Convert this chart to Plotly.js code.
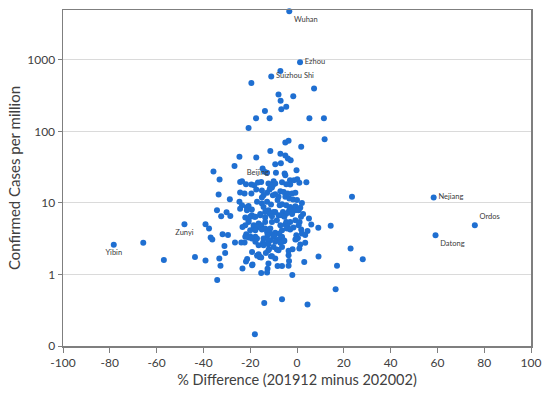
<!DOCTYPE html>
<html>
<head>
<meta charset="utf-8">
<script src="https://cdn.plot.ly/plotly-3.0.1.min.js"></script>
<style>html,body{margin:0;padding:0;background:#fff;}#chart{width:550px;height:399px;}</style>
</head>
<body>
<div id="chart"></div>
<script>
// % difference (201912 minus 202002), confirmed cases per million, label
const pctDiff = [
-3.3,1.3,-7.1,-11.0,-19.5,7.3,-7.9,-1.6,-7.0,-4.6,-6.7,-13.7,-17.5,-11.7,5.3,11.5,-20.7,11.8,-5,-3.6,
1.8,-11.4,-7.1,-5,-24.6,-17.4,-3.9,-2.7,-6.9,-9.3,-26.7,-14.7,-0.2,-35.7,-14,-9,-12.8,-5.3,-5,-33.1,
-3,-1.3,0.1,1,4,-6.4,-9.3,-2.9,-4.6,-24.3,-23.5,-21.8,-19.5,-16.7,-15.3,-12.2,-10,-10.3,-18.3,-11.4,
-10.7,-17.4,-15,-11.7,-7.1,-5.7,-12.8,-22.4,-19.5,-24.3,-33.5,-4,-2.1,-0.7,-9.3,-14.3,-10.3,-15,-7.9,-5,
-3.3,-1.7,0,2.1,-28.7,-8.3,23.5,58.4,-24.6,-17.1,-12.8,-15,-11.1,-23.5,-20.7,-7.4,-6.4,-4.6,-2.9,-0.7,
1.4,-14.3,-21.4,-24.3,-20.7,-34.2,-30.1,-21.4,-19.3,-12.2,-3.2,-1.9,-0.7,0.7,-3.6,-6,-9.3,-13.6,-10,-11.7,
-15.7,-2.1,2.6,-4.6,-19.3,-15.7,-7.9,-6.7,-10.7,-32.4,-28.5,-20,-18.3,-17.8,-5.4,1.7,-22.1,-13.6,5.1,-20.7,
-8.6,-0.7,-4.6,-2.9,1.1,-20.7,-13.6,-10.7,-16.4,-48.1,-39.1,6.1,-5,-22.1,-15.3,-18.5,-7.1,0.7,76,14.4,
-4,-23.3,-18.5,-17.1,-1.5,9.1,-37.6,-13.6,-11.4,-4.3,-2.9,1.8,-15,-20,-17.8,-6.4,4.5,-12.8,-9.3,-11.4,
-7.6,2.1,-31.8,-21.7,-29.5,3.5,-9.6,-12.6,-0.3,59.2,-20,-17.8,-22.1,-6.4,-10,-36.9,-20.7,0.4,-6.4,-19.3,
-17.1,-14.3,-7.1,-0.3,-36.2,-7.9,-0.7,-11.4,-5.7,-12.2,-5.4,-5.7,-9.3,-17.8,-26.5,-23.8,-22.4,-14.5,-65.7,-7.1,
3.5,-12.2,1.4,-78.3,-16.4,-14.3,-31,-10,-6.4,22.9,1,-12,-1.9,-8.6,-7.9,-12.2,-3.6,-19.2,-30.7,-13.3,
-16.4,-3.6,-17.1,-11.1,-10.7,9.2,-43.6,-16,-15.7,-15.3,-33.2,-9.3,-21.3,28.1,-56.9,-39.1,-3.4,-21.8,3.1,-12.2,
-19,-19.2,-32.7,-3.6,-6.4,-8.3,17.1,-23.3,-12.6,-15.3,-12.8,-2,-34.1,16.5,-6.4,-14,4.5,-18
];
const casesPerMillion = [
4800,930,704,588,478,399,329,312,268,221,205,194,153,153,153,153,112,78,70,74,
61,53.5,49,46,44.2,43.2,42,39.5,36,34.8,33,30.4,28.8,27.6,27.6,26.4,26.4,25.8,24.5,21.3,
20.8,20.8,21.5,19.2,19.5,19.5,18.8,18.1,18.3,19.7,20.1,18.3,18.1,19.4,19.7,18.8,20.1,17.7,17.7,16.3,
16.5,15.4,15,15.5,14.6,14.3,13.9,13.6,13.6,14.0,13.1,13.6,13.6,13.9,13.3,12.8,12.8,11.9,12.2,12.2,
11.6,11.2,11,10.0,11.3,11,12.2,11.9,10.4,10.4,10.4,9.85,9.5,9.3,9.1,9.3,9.6,9.3,8.8,9.0,
8.6,8.8,8.7,8.3,8.4,7.9,7.4,7.9,8.1,7.9,8.1,7.75,7.9,7.9,7.5,7.5,7.5,7.5,7.5,7.1,
7.0,7.0,7.0,7.1,6.75,6.75,6.75,6.75,6.5,6.5,6.6,6.4,6.4,6.4,6.4,6.4,6.25,6.25,6.06,5.74,
5.74,5.74,5.43,5.43,5.43,5.43,5.43,5.43,5.16,5.05,5.05,5.0,5.0,4.89,4.89,4.89,4.89,4.89,4.9,4.79,
4.73,4.63,4.63,4.54,4.54,4.49,4.4,4.4,4.4,4.4,4.26,4.26,4.26,4.17,4.17,4.17,4.07,3.94,3.82,3.74,
3.74,3.74,3.66,3.66,3.58,3.58,3.55,3.55,3.55,3.55,3.43,3.36,3.36,3.36,3.36,3.29,3.29,3.25,3.19,3.19,
3.19,3.19,3.19,3.12,3.09,3.09,3.09,3.02,3.02,3.02,2.96,2.92,2.86,2.86,2.8,2.8,2.8,2.8,2.77,2.77,
2.77,2.65,2.63,2.6,2.57,2.57,2.51,2.43,2.43,2.31,2.31,2.26,2.26,2.23,2.19,2.19,2.14,2.07,2.0,2.0,
1.92,1.86,1.84,1.8,1.8,1.79,1.76,1.76,1.76,1.73,1.67,1.67,1.65,1.64,1.6,1.57,1.55,1.52,1.5,1.43,
1.38,1.35,1.32,1.32,1.31,1.31,1.32,1.21,1.2,1.05,1.07,0.98,0.84,0.62,0.45,0.40,0.38,0.146
];
const cityNames = ["Wuhan","Ezhou","Suizhou Shi","Beijing","Nejiang","Ordos","Datong","Zunyi","Yibin"];
const cityIndex = [0,1,3,50,87,158,189,149,223];
const cityTextPos = ["bottom right","middle right","middle right","top right","middle right","top right","bottom right","bottom center","bottom center"];

const yTickVals = [0.1,1,10,100,1000];
const yTickText = ["0","1","10","100","1000"];
const xTickVals = [-100,-80,-60,-40,-20,0,20,40,60,80,100];
const xTickText = ["-100","-80","-60","-40","-20","0","20","40","60","80","100"];

const labels = pctDiff.map(() => "");
const textPos = pctDiff.map(() => "middle right");
cityIndex.forEach((k, i) => { labels[k] = cityNames[i]; textPos[k] = cityTextPos[i]; });

const FONT = "Lato, 'Open Sans', sans-serif";
const trace = {
  type: "scatter",
  mode: "markers+text",
  x: pctDiff,
  y: casesPerMillion,
  text: labels,
  textposition: textPos,
  textfont: {family: FONT, size: 7.5, color: "#3a3a3a"},
  marker: {color: "#1f6fd1", size: 6, line: {width: 0}},
  hoverinfo: "skip",
  cliponaxis: false
};

const layout = {
  width: 550, height: 399,
  margin: {l: 63, r: 19, t: 10, b: 53, pad: 0},
  paper_bgcolor: "#ffffff",
  plot_bgcolor: "#ffffff",
  showlegend: false,
  font: {family: FONT, color: "#404040"},
  xaxis: {
    range: [-100, 100],
    tickvals: xTickVals, ticktext: xTickText,
    ticks: "outside", ticklen: 5, tickcolor: "#7f7f7f", tickwidth: 1,
    showgrid: false, zeroline: false,
    showline: true, linecolor: "#7f7f7f", linewidth: 1.5, mirror: true,
    tickfont: {family: FONT, size: 12, color: "#404040"},
    title: {text: "% Difference (201912 minus 202002)", font: {family: FONT, size: 14.5, color: "#404040"}, standoff: 6}
  },
  yaxis: {
    type: "log",
    range: [-1, Math.log10(5000)],
    tickvals: yTickVals, ticktext: yTickText,
    ticks: "outside", ticklen: 4, tickcolor: "#7f7f7f", tickwidth: 1,
    showgrid: true, gridcolor: "#dadada", gridwidth: 1,
    zeroline: false,
    showline: true, linecolor: "#7f7f7f", linewidth: 1.5, mirror: true,
    tickfont: {family: FONT, size: 12, color: "#404040"},
    title: {text: "Confirmed Cases per million", font: {family: FONT, size: 15, color: "#404040"}, standoff: 3}
  }
};

Plotly.newPlot("chart", [trace], layout, {displayModeBar: false, staticPlot: true});
</script>
</body>
</html>
